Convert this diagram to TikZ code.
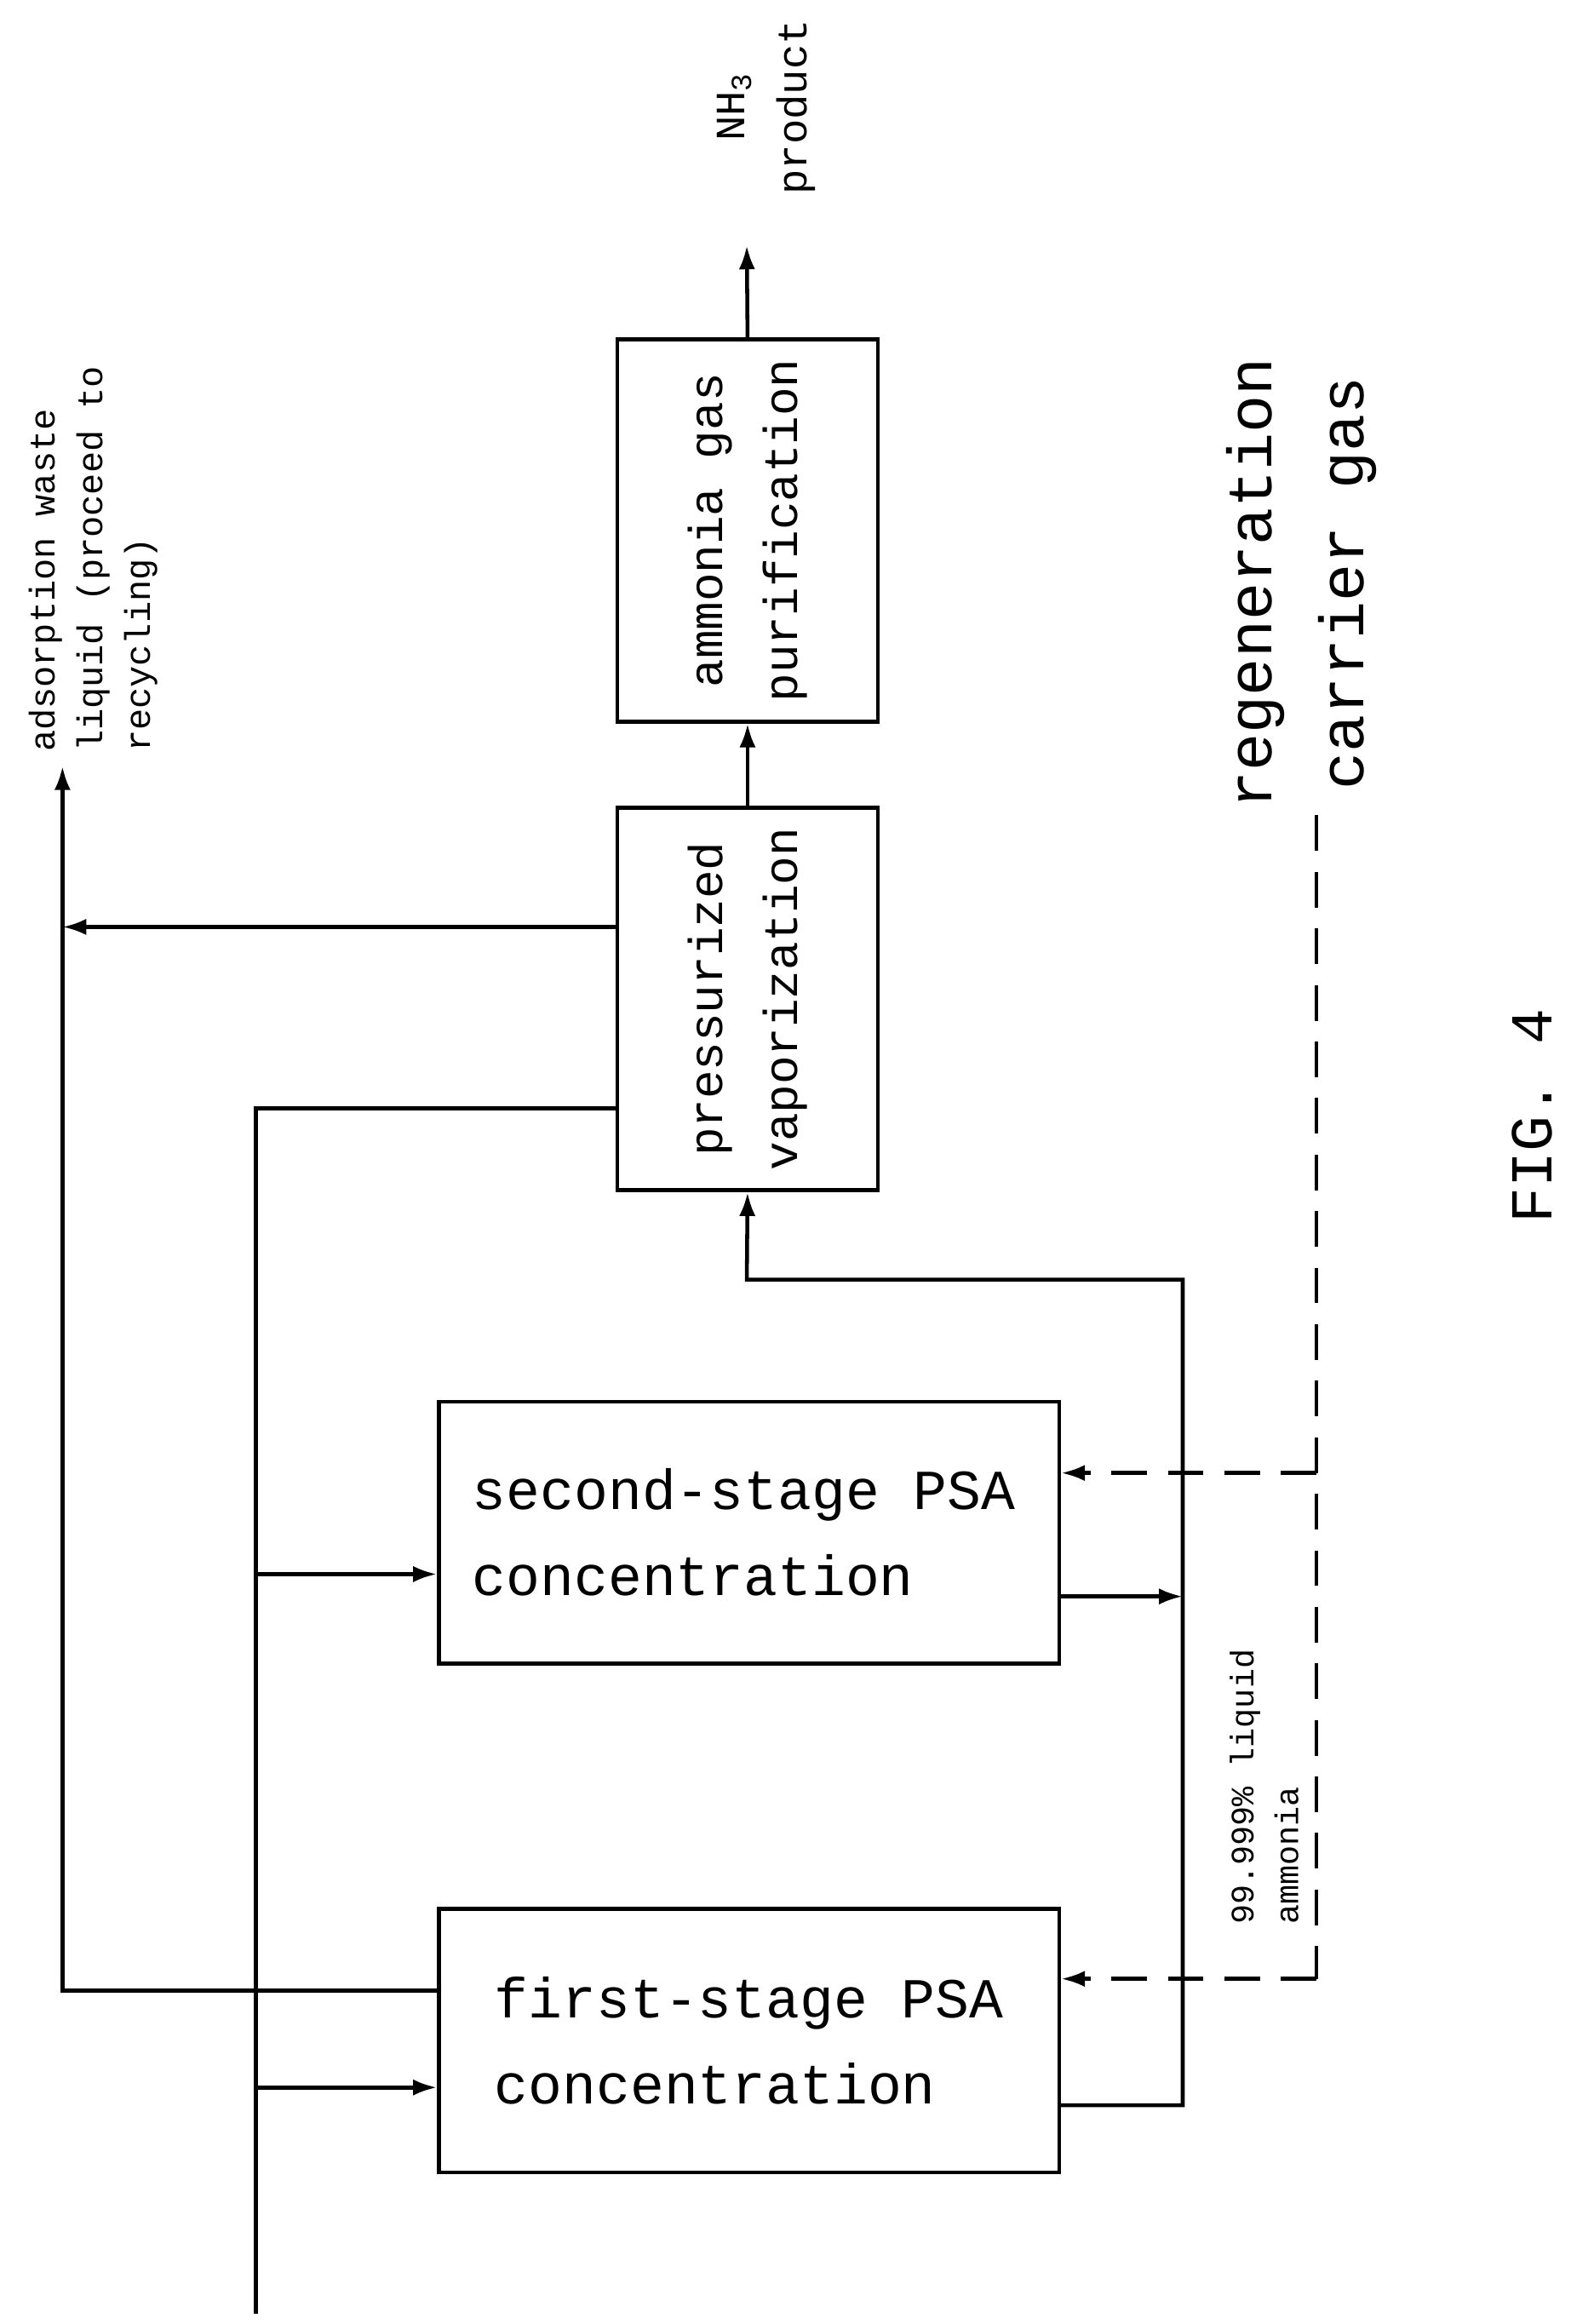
\documentclass[tikz,border=0pt]{standalone}
\usepackage{fontspec}
\setmainfont{Liberation Mono}
\usetikzlibrary{arrows.meta}
\begin{document}
\begin{tikzpicture}[x=1pt,y=-1pt,
  every path/.style={line width=2.6pt},
  box/.style={draw,line width=2.6pt,inner sep=0pt},
  ar/.style={-{Latex[length=16pt,width=11pt]}},
  dsh/.style={dash pattern=on 24pt off 14pt},
  rt/.style={rotate=90,align=center}]
\useasboundingbox (0,0) rectangle (1056,1562);
% boxes
\node[box,minimum width=417pt,minimum height=177pt] (first) at (503.5,1371.5) {};
\node[align=left,font=\fontsize{38}{58}\selectfont] (ft) at (503.5,1371.5) {first-stage PSA\\concentration};
\node[box,minimum width=417pt,minimum height=176pt] (second) at (503.5,1030) {};
\node[align=left,font=\fontsize{38}{58}\selectfont] (st) at (500,1030) {second-stage PSA\\concentration};
\node[box,minimum width=175pt,minimum height=257pt] (press) at (502.5,671.5) {};
\node[rt,font=\fontsize{32}{50}\selectfont] (pt) at (502.5,671.5) {pressurized\\vaporization};
\node[box,minimum width=175pt,minimum height=257pt] (pur) at (502.5,356.5) {};
\node[rt,font=\fontsize{32}{50}\selectfont] (ut) at (502.5,356.5) {ammonia gas\\purification};
\coordinate (top) at (502,165);
\node[rt,font=\fontsize{28}{42}\selectfont] (nh3) at (515,72) {NH\textsubscript{3}\\product};
\coordinate (feed) at (172,1555);
\coordinate (waste) at (42,515);
\node[rotate=90,align=left,anchor=north west,font=\fontsize{24}{32}\selectfont] (wt) at (15,510) {adsorption waste\\liquid (proceed to\\recycling)};
\coordinate (reg) at (885,548);
\node[rt,font=\fontsize{42}{62}\selectfont] (rt1) at (875,392) {regeneration\\carrier gas};
\node[rotate=90,align=left,anchor=north west,font=\fontsize{22}{30}\selectfont] (lq) at (822,1298) {99.999\% liquid\\ammonia};
\node[rotate=90,font=\fontsize{40}{48}\selectfont] (fig) at (1030,750) {FIG. 4};
% connectors
\draw[ar] (press.north) -- (pur.south);
\draw[ar] (pur.north) -- (top);
\draw (feed) -- (172,745) -- (press.west |- 0,745);
\draw[ar] (172,1058) -- (second.west |- 0,1058);
\draw[ar] (172,1403) -- (first.west |- 0,1403);
\draw[ar] (first.west |- 0,1338) -- (42,1338) -- (waste);
\draw[ar] (press.west |- 0,623) -- (42,623);
\draw[ar] (first.east |- 0,1415) -- (795,1415) -- (795,860) -- (502,860) -- (press.south);
\draw[ar] (second.east |- 0,1073) -- (795,1073);
\draw[dsh] (reg) -- (885,1330);
\draw[dsh,ar] (885,1330) -- (first.east |- 0,1330);
\draw[dsh,ar] (885,990) -- (second.east |- 0,990);
\end{tikzpicture}
\end{document}
